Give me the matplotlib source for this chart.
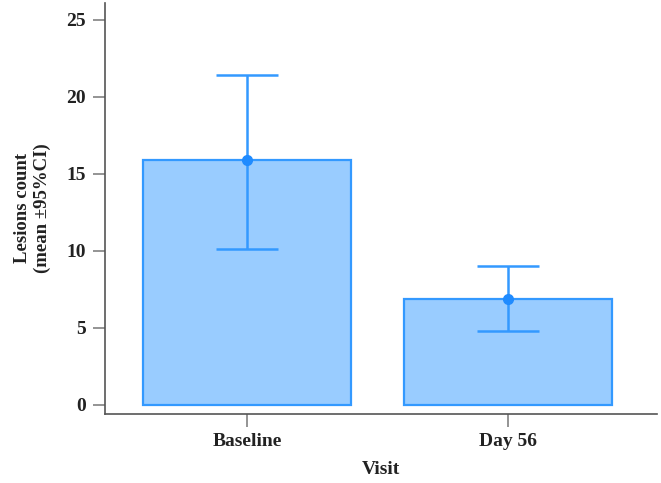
import numpy as np
import matplotlib
matplotlib.use("Agg")
import matplotlib.pyplot as plt

# Datos
visitas = ["Baseline", "Day 56"]
medias = [15.9, 6.9]
ic_inf = [10.1, 4.8]
ic_sup = [21.4, 9.0]

plt.rcParams['font.family'] = ['Liberation Serif', 'DejaVu Serif']
plt.rcParams['font.weight'] = 'bold'

fig = plt.figure(figsize=(6.61, 4.83), dpi=100)
ax = fig.add_axes([0.159, 0.143, 0.835, 0.851])

x = np.arange(len(visitas))
medias_arr = np.array(medias)
err = [medias_arr - np.array(ic_inf), np.array(ic_sup) - medias_arr]

ax.bar(x, medias, width=0.8, color='#99CCFF', edgecolor='#3399FF', linewidth=1.6, zorder=2)
ax.errorbar(x, medias, yerr=err, fmt='o', color='#1F8BFF', ecolor='#3399FF',
            elinewidth=1.8, capsize=22, capthick=1.8, markersize=7, zorder=3)

ax.set_xlim(-0.544, 1.571)
ax.set_ylim(-0.58, 26.1)
ax.set_yticks([0, 5, 10, 15, 20, 25])
ax.set_xticks(x)
ax.set_xticklabels(visitas)

for lado in ['top', 'right']:
    ax.spines[lado].set_visible(False)
for lado in ['left', 'bottom']:
    ax.spines[lado].set_color('#555555')
    ax.spines[lado].set_linewidth(1.2)

ax.tick_params(axis='both', length=9, width=1.1, color='#777777', labelsize=14,
               labelcolor='#222222', pad=5)

ax.set_xlabel('Visit', fontsize=14, fontweight='bold', color='#222222', labelpad=8)
ax.set_ylabel('Lesions count\n(mean ±95%CI)', fontsize=13.5, fontweight='bold',
              color='#222222', labelpad=11)

fig.savefig('out.png', dpi=100)
